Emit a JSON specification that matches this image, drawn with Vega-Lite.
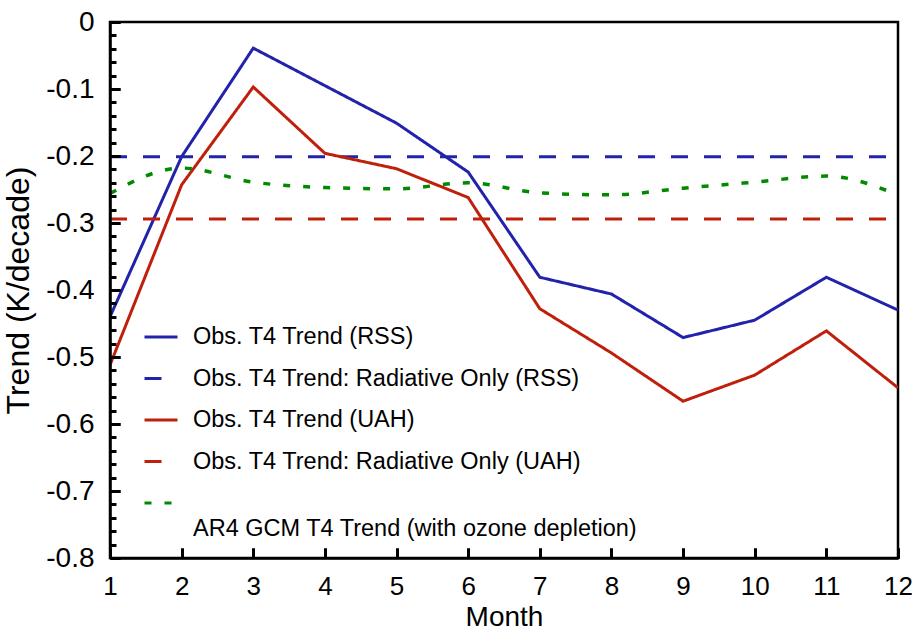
{
  "$schema": "https://vega.github.io/schema/vega-lite/v6.json",
  "width": 788,
  "height": 536,
  "autosize": {"type": "none"},
  "padding": {"left": 110, "top": 22, "right": 18, "bottom": 74},
  "background": "white",
  "config": {
    "font": "Liberation Sans",
    "view": {"stroke": "black", "strokeWidth": 2.5},
    "axis": {"grid": false, "labelColor": "black", "titleColor": "black", "labelFont": "Liberation Sans", "titleFont": "Liberation Sans", "titleFontWeight": "normal"}
  },
  "datasets": {
    "obs": [
      {"series": "Obs. T4 Trend (RSS)", "month": 1, "trend": -0.44},
      {"series": "Obs. T4 Trend (RSS)", "month": 2, "trend": -0.201},
      {"series": "Obs. T4 Trend (RSS)", "month": 3, "trend": -0.039},
      {"series": "Obs. T4 Trend (RSS)", "month": 4, "trend": -0.095},
      {"series": "Obs. T4 Trend (RSS)", "month": 5, "trend": -0.151},
      {"series": "Obs. T4 Trend (RSS)", "month": 6, "trend": -0.224},
      {"series": "Obs. T4 Trend (RSS)", "month": 7, "trend": -0.381},
      {"series": "Obs. T4 Trend (RSS)", "month": 8, "trend": -0.406},
      {"series": "Obs. T4 Trend (RSS)", "month": 9, "trend": -0.471},
      {"series": "Obs. T4 Trend (RSS)", "month": 10, "trend": -0.445},
      {"series": "Obs. T4 Trend (RSS)", "month": 11, "trend": -0.381},
      {"series": "Obs. T4 Trend (RSS)", "month": 12, "trend": -0.43},
      {"series": "Obs. T4 Trend: Radiative Only (RSS)", "month": 1, "trend": -0.201},
      {"series": "Obs. T4 Trend: Radiative Only (RSS)", "month": 12, "trend": -0.201},
      {"series": "Obs. T4 Trend (UAH)", "month": 1, "trend": -0.512},
      {"series": "Obs. T4 Trend (UAH)", "month": 2, "trend": -0.243},
      {"series": "Obs. T4 Trend (UAH)", "month": 3, "trend": -0.097},
      {"series": "Obs. T4 Trend (UAH)", "month": 4, "trend": -0.196},
      {"series": "Obs. T4 Trend (UAH)", "month": 5, "trend": -0.219},
      {"series": "Obs. T4 Trend (UAH)", "month": 6, "trend": -0.262},
      {"series": "Obs. T4 Trend (UAH)", "month": 7, "trend": -0.428},
      {"series": "Obs. T4 Trend (UAH)", "month": 8, "trend": -0.494},
      {"series": "Obs. T4 Trend (UAH)", "month": 9, "trend": -0.566},
      {"series": "Obs. T4 Trend (UAH)", "month": 10, "trend": -0.527},
      {"series": "Obs. T4 Trend (UAH)", "month": 11, "trend": -0.461},
      {"series": "Obs. T4 Trend (UAH)", "month": 12, "trend": -0.546},
      {"series": "Obs. T4 Trend: Radiative Only (UAH)", "month": 1, "trend": -0.294},
      {"series": "Obs. T4 Trend: Radiative Only (UAH)", "month": 12, "trend": -0.294}
    ],
    "gcm": [
      {"series": "AR4 GCM T4 Trend (with ozone depletion)", "month": 1, "trend": -0.256},
      {"series": "AR4 GCM T4 Trend (with ozone depletion)", "month": 2, "trend": -0.218},
      {"series": "AR4 GCM T4 Trend (with ozone depletion)", "month": 3, "trend": -0.239},
      {"series": "AR4 GCM T4 Trend (with ozone depletion)", "month": 4, "trend": -0.247},
      {"series": "AR4 GCM T4 Trend (with ozone depletion)", "month": 5, "trend": -0.249},
      {"series": "AR4 GCM T4 Trend (with ozone depletion)", "month": 6, "trend": -0.24},
      {"series": "AR4 GCM T4 Trend (with ozone depletion)", "month": 7, "trend": -0.255},
      {"series": "AR4 GCM T4 Trend (with ozone depletion)", "month": 8, "trend": -0.258},
      {"series": "AR4 GCM T4 Trend (with ozone depletion)", "month": 9, "trend": -0.248},
      {"series": "AR4 GCM T4 Trend (with ozone depletion)", "month": 10, "trend": -0.239},
      {"series": "AR4 GCM T4 Trend (with ozone depletion)", "month": 11, "trend": -0.23},
      {"series": "AR4 GCM T4 Trend (with ozone depletion)", "month": 12, "trend": -0.258}
    ]
  },
  "encoding": {
    "color": {"field": "series", "type": "nominal",
      "scale": {"domain": ["Obs. T4 Trend (RSS)", "Obs. T4 Trend: Radiative Only (RSS)", "Obs. T4 Trend (UAH)", "Obs. T4 Trend: Radiative Only (UAH)", "AR4 GCM T4 Trend (with ozone depletion)"],
        "range": ["#2222aa", "#2222aa", "#bf200c", "#bf200c", "#008a00"]},
      "legend": {"title": null, "orient": "none", "legendX": 33, "legendY": 297, "symbolType": "stroke", "symbolSize": 1089, "symbolStrokeWidth": 3, "labelFontSize": 23.5, "labelFont": "Liberation Sans", "labelColor": "black", "labelOffset": 14, "rowPadding": 11.5, "labelLimit": 700,
        "labelExpr": "indexof(datum.label, 'AR4') == 0 ? ['', datum.label] : datum.label"}},
    "strokeDash": {"field": "series", "type": "nominal",
      "scale": {"domain": ["Obs. T4 Trend (RSS)", "Obs. T4 Trend: Radiative Only (RSS)", "Obs. T4 Trend (UAH)", "Obs. T4 Trend: Radiative Only (UAH)", "AR4 GCM T4 Trend (with ozone depletion)"],
        "range": [[1, 0], [17, 16], [1, 0], [17, 16], [7, 13]]}}
  },
  "layer": [
    {"data": {"name": "obs"}, "mark": {"type": "line", "strokeWidth": 3, "clip": true},
      "encoding": {
        "x": {"field": "month", "type": "quantitative", "scale": {"domain": [1, 12], "nice": false, "zero": false},
          "axis": {"orient": "bottom", "title": "Month", "values": [1,2,3,4,5,6,7,8,9,10,11,12], "ticks": true, "tickSize": -10, "tickWidth": 3, "tickColor": "#000000", "domainColor": "black", "domainWidth": 2.5, "labelFontSize": 26, "labelPadding": 25, "titleFontSize": 28, "titlePadding": 4, "labelFlush": false, "zindex": 1}},
        "y": {"field": "trend", "type": "quantitative", "scale": {"domain": [-0.8, 0], "nice": false, "zero": false},
          "axis": {"orient": "left", "title": "Trend (K/decade)", "values": [0,-0.1,-0.2,-0.3,-0.4,-0.5,-0.6,-0.7,-0.8], "ticks": true, "tickSize": -10, "tickWidth": 3, "tickColor": "#000000", "domainColor": "black", "domainWidth": 2.5,
            "labelExpr": "abs(datum.value) < 0.001 ? '0' : '-' + format(abs(datum.value), '.1f')",
            "labelFontSize": 28, "labelPadding": 26, "titleFontSize": 32, "titlePadding": 10, "labelFlush": false, "labelOverlap": false, "zindex": 1}}
      }},
    {"data": {"name": "gcm"}, "mark": {"type": "line", "strokeWidth": 3.5, "interpolate": "monotone", "clip": true},
      "encoding": {
        "x": {"field": "month", "type": "quantitative", "scale": {"domain": [1, 12], "nice": false, "zero": false},
          "axis": {"orient": "top", "offset": -536, "zindex": 1, "title": null, "labels": false, "domain": false, "ticks": true, "values": [1,2,3,4,5,6,7,8,9,10,11,12], "tickSize": 10, "tickWidth": 3, "tickColor": "#000000", "tickOpacity": 1}},
        "y": {"field": "trend", "type": "quantitative", "scale": {"domain": [-0.8, 0], "nice": false, "zero": false},
          "axis": {"orient": "right", "offset": -788, "zindex": 1, "title": null, "labels": false, "domain": false, "ticks": true, "tickColor": "#000000", "tickOpacity": 1,
            "values": [0,-0.02,-0.04,-0.06,-0.08,-0.1,-0.12,-0.14,-0.16,-0.18,-0.2,-0.22,-0.24,-0.26,-0.28,-0.3,-0.32,-0.34,-0.36,-0.38,-0.4,-0.42,-0.44,-0.46,-0.48,-0.5,-0.52,-0.54,-0.56,-0.58,-0.6,-0.62,-0.64,-0.66,-0.68,-0.7,-0.72,-0.74,-0.76,-0.78,-0.8],
            "tickSize": {"condition": {"test": "abs(datum.value*10 - round(datum.value*10)) < 0.001", "value": 10}, "value": 6}, "tickWidth": 3}}
      }}
  ],
  "resolve": {"axis": {"x": "independent", "y": "independent"}}
}
